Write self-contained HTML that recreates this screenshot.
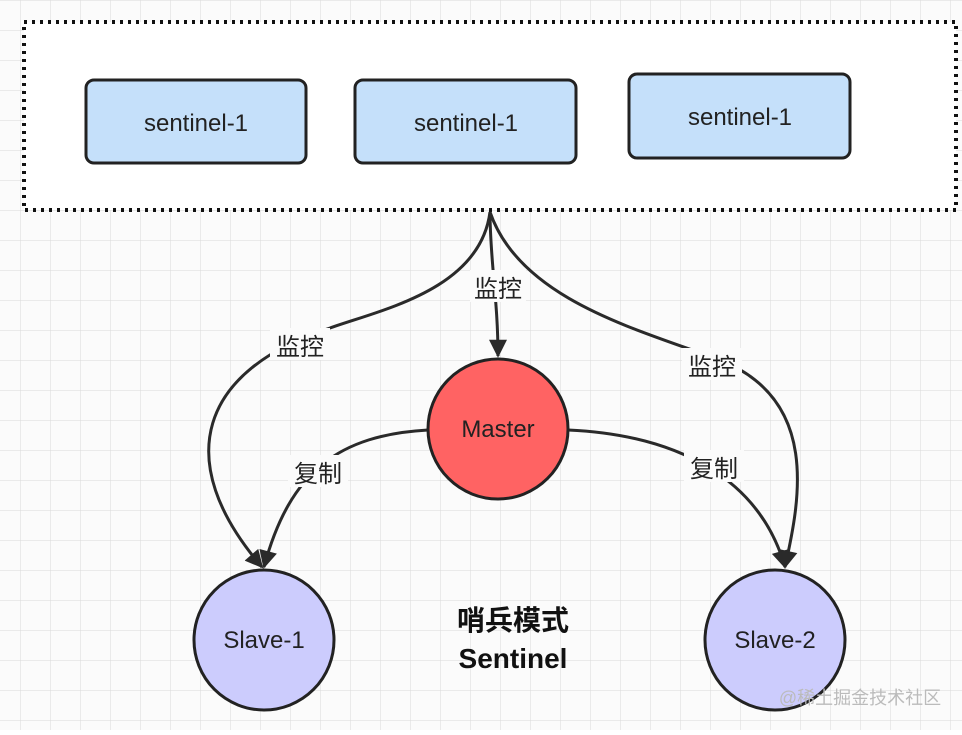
<!DOCTYPE html>
<html><head><meta charset="utf-8"><style>
html,body{margin:0;padding:0;background:#fff}
</style></head><body>
<svg width="962" height="730" xmlns="http://www.w3.org/2000/svg" font-family="Liberation Sans, Noto Sans CJK SC, sans-serif">
<defs>
<pattern id="g" width="30" height="30" patternUnits="userSpaceOnUse" x="20" y="0">
<path d="M0 0V30M0 0H30" stroke="#dadada" stroke-width="1" fill="none"/>
</pattern>
<marker id="a" viewBox="0 0 10 10" refX="9" refY="5" markerWidth="7" markerHeight="6" orient="auto"><path d="M0 0L10 5L0 10z" fill="#2a2a2a"/></marker>
</defs>
<rect width="962" height="730" fill="#fbfbfb"/>
<rect width="962" height="730" fill="url(#g)"/>
<rect x="24" y="22" width="932" height="188" fill="#fff" stroke="#111" stroke-width="4" stroke-dasharray="3 5"/>
<g stroke="#222" stroke-width="3" fill="#c5e0fa">
<rect x="86" y="80" width="220" height="83" rx="8"/>
<rect x="355" y="80" width="221" height="83" rx="8"/>
<rect x="629" y="74" width="221" height="84" rx="8"/>
</g>
<g font-size="24" fill="#222" text-anchor="middle">
<text x="196" y="131">sentinel-1</text>
<text x="466" y="131">sentinel-1</text>
<text x="740" y="125">sentinel-1</text>
</g>
<g stroke="#2a2a2a" stroke-width="3" fill="none" marker-end="url(#a)">
<path d="M490 212 C480 290 380 310 330 328 C200 370 170 460 262 567"/>
<path d="M490 212 C490 260 498 300 498 356"/>
<path d="M490 212 C520 300 640 330 720 360 C820 400 800 500 785 567"/>
<path d="M428 430 C340 435 290 470 264 567"/>
<path d="M568 430 C680 435 760 480 785 567"/>
</g>
<g fill="#fbfbfb">
<rect x="470" y="270" width="56" height="32"/>
<rect x="270" y="328" width="60" height="32"/>
<rect x="682" y="348" width="60" height="32"/>
<rect x="288" y="455" width="60" height="32"/>
<rect x="684" y="450" width="60" height="32"/>
</g>
<g font-size="24" fill="#222" text-anchor="middle">
<text x="498" y="297">监控</text>
<text x="300" y="355">监控</text>
<text x="712" y="375">监控</text>
<text x="318" y="482">复制</text>
<text x="714" y="477">复制</text>
</g>
<circle cx="498" cy="429" r="70" fill="#ff6363" stroke="#222" stroke-width="3"/>
<circle cx="264" cy="640" r="70" fill="#ccccfd" stroke="#222" stroke-width="3"/>
<circle cx="775" cy="640" r="70" fill="#ccccfd" stroke="#222" stroke-width="3"/>
<g font-size="24" fill="#222" text-anchor="middle">
<text x="498" y="437">Master</text>
<text x="264" y="648">Slave-1</text>
<text x="775" y="648">Slave-2</text>
</g>
<g font-size="28" font-weight="bold" fill="#111" text-anchor="middle">
<text x="513" y="630">哨兵模式</text>
<text x="513" y="668">Sentinel</text>
</g>
<text x="860" y="704" font-size="18" fill="#bbb" text-anchor="middle">@稀土掘金技术社区</text>
</svg>
</body></html>
